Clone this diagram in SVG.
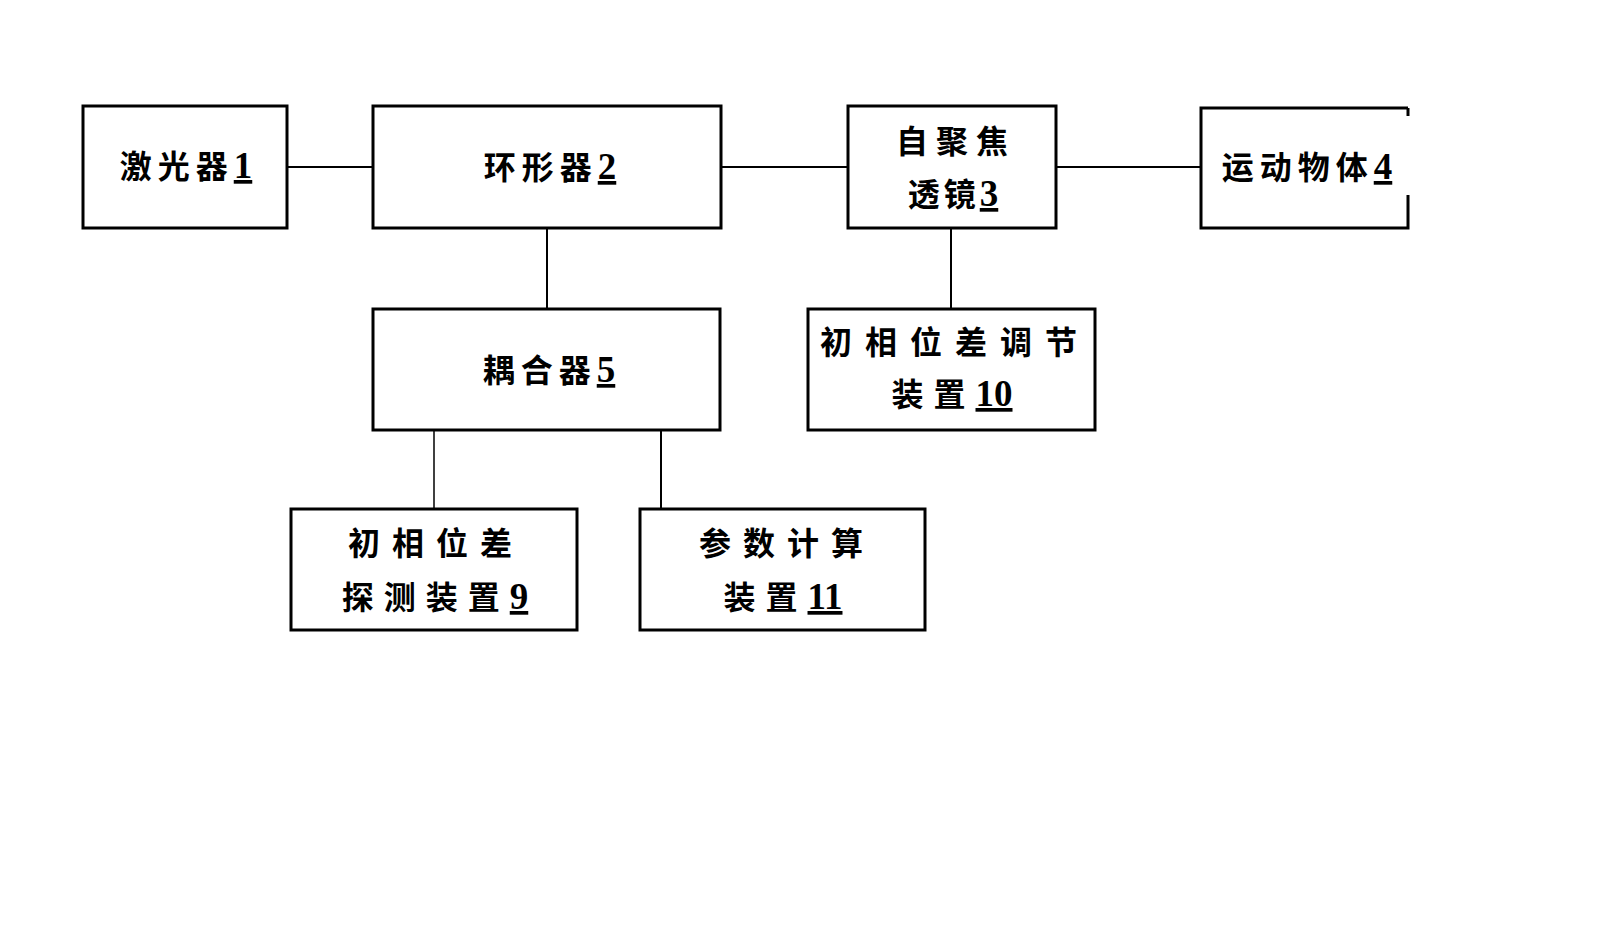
<svg xmlns="http://www.w3.org/2000/svg" width="1619" height="926" viewBox="0 0 1619 926">
<style>
.box{fill:#fff;stroke:#000;stroke-width:3}
.ln{stroke:#000;stroke-width:2;fill:none}
.t{font-family:"Noto Sans CJK SC","Liberation Serif",serif;font-size:32px;font-weight:bold;fill:#000;text-anchor:middle}
.n{font-family:"Liberation Serif",serif;font-size:37px;font-weight:bold;text-decoration:underline;letter-spacing:0}
</style>
<rect width="1619" height="926" fill="#fff"/>
<g id="connectors">
<line class="ln" x1="287" y1="167" x2="373" y2="167"/>
<line class="ln" x1="721" y1="167" x2="848" y2="167"/>
<line class="ln" x1="1056" y1="167" x2="1201" y2="167"/>
<line class="ln" x1="547" y1="228" x2="547" y2="309"/>
<line class="ln" x1="951" y1="228" x2="951" y2="309"/>
<line class="ln" x1="434" y1="430" x2="434" y2="509" style="stroke-width:1.5"/>
<line class="ln" x1="661" y1="430" x2="661" y2="509"/>
</g>
<g id="node1">
<rect class="box" x="83" y="106" width="204" height="122"/>
<text class="t" x="186" y="178"><tspan letter-spacing="6">激光器</tspan><tspan class="n">1</tspan></text>
</g>
<g id="node2">
<rect class="box" x="373" y="106" width="348" height="122"/>
<text class="t" x="550" y="179"><tspan letter-spacing="6">环形器</tspan><tspan class="n">2</tspan></text>
</g>
<g id="node3">
<rect class="box" x="848" y="106" width="208" height="122"/>
<text class="t" x="956" y="153"><tspan letter-spacing="8">自聚焦</tspan></text>
<text class="t" x="953" y="206"><tspan letter-spacing="4">透镜</tspan><tspan class="n">3</tspan></text>
</g>
<g id="node4">
<path class="ln" style="stroke-width:3" d="M1408,108 H1201 V228 H1408 V195 M1408,108 V116"/>
<text class="t" x="1307" y="179"><tspan letter-spacing="6">运动物体</tspan><tspan class="n">4</tspan></text>
</g>
<g id="node5">
<rect class="box" x="373" y="309" width="347" height="121"/>
<text class="t" x="549" y="382"><tspan letter-spacing="6">耦合器</tspan><tspan class="n">5</tspan></text>
</g>
<g id="node10">
<rect class="box" x="808" y="309" width="287" height="121"/>
<text class="t" x="955" y="354"><tspan letter-spacing="13">初相位差调节</tspan></text>
<text class="t" x="952" y="406"><tspan letter-spacing="10">装置</tspan><tspan class="n">10</tspan></text>
</g>
<g id="node9">
<rect class="box" x="291" y="509" width="286" height="121"/>
<text class="t" x="436" y="555"><tspan letter-spacing="12">初相位差</tspan></text>
<text class="t" x="435" y="609"><tspan letter-spacing="10">探测装置</tspan><tspan class="n">9</tspan></text>
</g>
<g id="node11">
<rect class="box" x="640" y="509" width="285" height="121"/>
<text class="t" x="787" y="555"><tspan letter-spacing="12">参数计算</tspan></text>
<text class="t" x="783" y="609"><tspan letter-spacing="10">装置</tspan><tspan class="n">11</tspan></text>
</g>
</svg>
